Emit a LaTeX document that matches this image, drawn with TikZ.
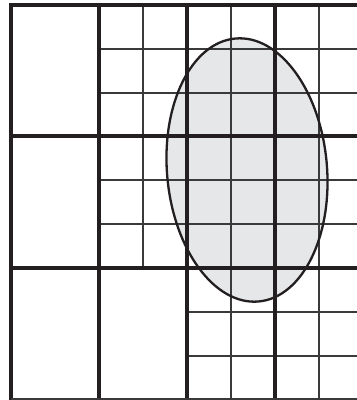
\documentclass[tikz,border=0pt]{standalone}
\usepackage{tikz}
\definecolor{ellfill}{HTML}{E6E7E9}
\definecolor{gridthin}{HTML}{3A3A3A}
\definecolor{gridthick}{HTML}{231F20}
\tikzset{
  thinline/.style={line width=1.1pt, draw=gridthin},
  thickline/.style={line width=3.2pt, draw=gridthick},
  blobline/.style={line width=2.3pt, draw=gridthick},
}
\begin{document}
\begin{tikzpicture}[x=1pt,y=-1pt]
\useasboundingbox (0,0) rectangle (357,400);
% ellipse fill
\begin{scope}[shift={(247,170)}, rotate=5]
  \fill[ellfill] (0,0) ellipse [x radius=80pt, y radius=132pt];
\end{scope}
% thin grid lines
\draw[thinline] (143,5) -- (143,268);
\draw[thinline] (231,5) -- (231,400);
\draw[thinline] (319,5) -- (319,400);
\foreach \y in {49,93,180,224} {
  \draw[thinline] (99,\y) -- (357,\y);
}
\foreach \y in {312,356} {
  \draw[thinline] (187,\y) -- (357,\y);
}
% ellipse outline
\begin{scope}[shift={(247,170)}, rotate=5]
  \draw[blobline] (0,0) ellipse [x radius=80pt, y radius=132pt];
\end{scope}
% thick grid lines
\draw[thickline] (11,3.4) -- (11,400);
\draw[thickline] (99,5) -- (99,400);
\draw[thickline] (187,5) -- (187,400);
\draw[thickline] (275,5) -- (275,400);
\draw[thickline] (9.4,5) -- (357,5);
\draw[thickline] (11,136) -- (357,136);
\draw[thickline] (11,268) -- (357,268);
\draw[thinline, line width=2pt] (11,399) -- (357,399);
\end{tikzpicture}
\end{document}
